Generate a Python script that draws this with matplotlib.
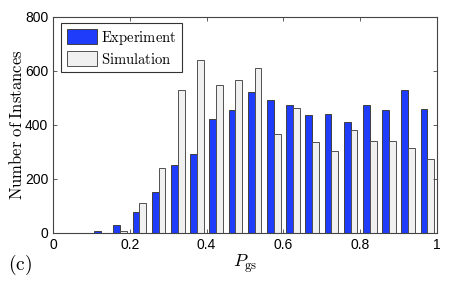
import matplotlib
matplotlib.use("Agg")
import matplotlib.pyplot as plt
import numpy as np

plt.rcParams['mathtext.fontset'] = 'cm'
plt.rcParams['font.family'] = ['Liberation Sans', 'DejaVu Sans']

bin_centers = [0.025, 0.075, 0.125, 0.175, 0.225, 0.275, 0.325, 0.375, 0.425, 0.475,
               0.525, 0.575, 0.625, 0.675, 0.725, 0.775, 0.825, 0.875, 0.925, 0.975]
experiment = [0, 0, 9, 30, 79, 153, 253, 292, 424, 457,
              524, 491, 475, 436, 439, 412, 475, 456, 530, 460]
simulation = [0, 0, 0, 9, 112, 241, 528, 641, 548, 567,
              611, 367, 464, 337, 305, 383, 341, 340, 314, 274]
xticks = [0, 0.2, 0.4, 0.6, 0.8, 1.0]
xticklabels = ['0', '0.2', '0.4', '0.6', '0.8', '1']
yticks = [0, 200, 400, 600, 800]

fig = plt.figure(figsize=(4.5, 2.81), dpi=100)
ax = fig.add_axes([53/450, 1-233/281, 384/450, 216/281])

x = np.array(bin_centers)
w = 0.0175
ax.bar(x - w/2, experiment, width=w, color='#1f3cfa', edgecolor='#404040', linewidth=0.7,
       label=r'$\mathrm{Experiment}$')
ax.bar(x + w/2, simulation, width=w, color='#f0f0f0', edgecolor='#505050', linewidth=0.7,
       label=r'$\mathrm{Simulation}$')

ax.set_xlim(0, 1)
ax.set_ylim(0, 800)
ax.set_xticks(xticks)
ax.set_xticklabels(xticklabels)
ax.set_yticks(yticks)
ax.tick_params(direction='in', top=True, right=True, labelsize=10, length=3, width=0.6,
               color='#444444')
for s in ax.spines.values():
    s.set_linewidth(0.8)
    s.set_color('#444444')

ax.set_ylabel(r'$\mathrm{Number\ of\ Instances}$', fontsize=12, labelpad=0)
ax.set_xlabel(r'$P_{\mathrm{gs}}$', fontsize=13, labelpad=0)

leg = ax.legend(loc='upper left', bbox_to_anchor=(8/384, 1-6/216), borderaxespad=0,
                fontsize=10.5, frameon=True, fancybox=False,
                edgecolor='#333333', framealpha=1, handlelength=2.1, handleheight=1.25,
                handletextpad=0.25, labelspacing=0.3, borderpad=0.38)
leg.get_frame().set_linewidth(0.8)

fig.text(8/450, 1-265/281, r'$\mathrm{(c)}$', fontsize=14, va='center', ha='left')

fig.savefig('out.png', dpi=100)
